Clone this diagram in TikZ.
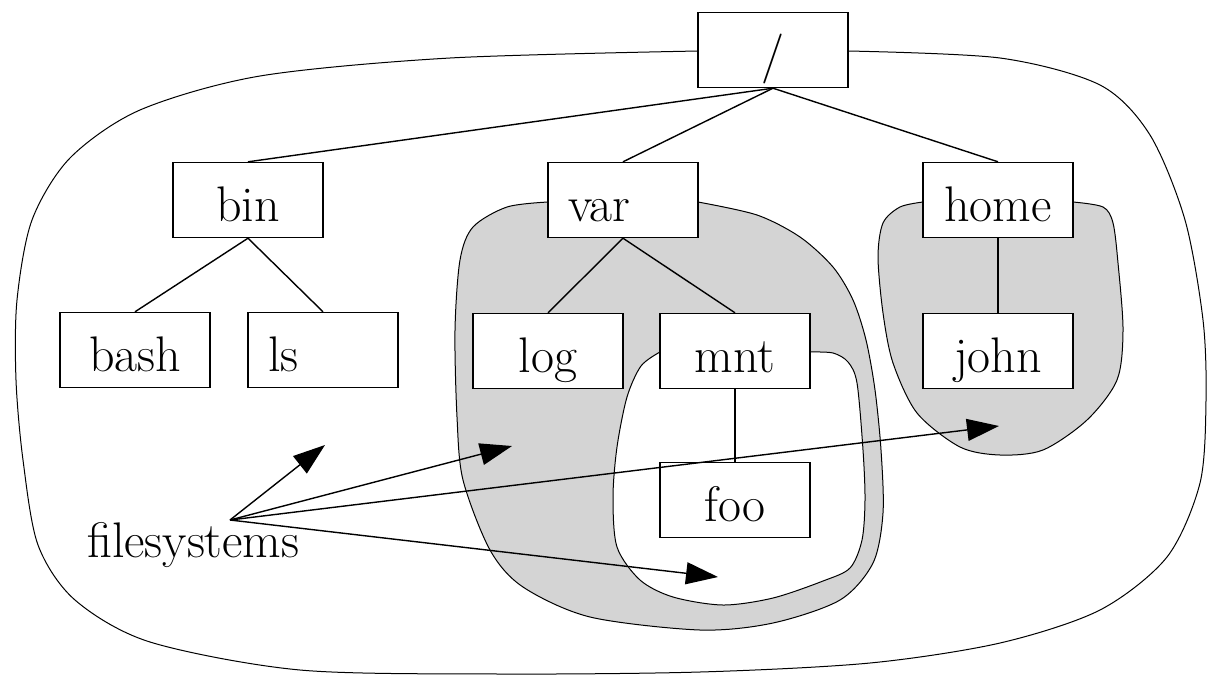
\documentclass[tikz,border=0pt]{standalone}
\usetikzlibrary{arrows.meta}

\begin{document}
\begin{tikzpicture}[x=0.5pt, y=-0.5pt, font=\fontsize{25}{30}\selectfont]
		\tikzset{box/.style = {draw, fill=white, line width=0.7pt, minimum width=75pt, minimum height=37.5pt, text height=21pt, text depth=0pt}}
		\tikzset{lbox/.style = {box, text width=55pt, align=left, inner xsep=10pt}}
		\tikzset{link/.style = {line width=0.7pt}}
		\tikzset{fsarrow/.style = {line width=0.7pt, -{Triangle[length=16pt, width=11pt]}}}
		\tikzset{blob/.style = {line width=0.5pt}}
		\tikzset{fsblob/.style = {blob, fill=black!17}}
		\tikzset{mntblob/.style = {blob, fill=white}}
		
		\useasboundingbox (0,0) rectangle (1208,675);
		
		% mounted filesystems
		\draw[blob] plot[smooth] coordinates {(698,51) (450,58) (260,76) (140,110) (70,158) (32,220) (17,300) (16,380) (23,460) (38,545) (75,600) (150,642) (300,670) (500,674) (700,672) (870,663) (1000,643) (1100,610) (1167,557) (1200,483) (1206,400) (1203,320) (1185,220) (1150,135) (1100,85) (1000,58) (848,51)};
		\filldraw[fsblob] plot[smooth] coordinates {(548,202) (507,207) (473,227) (460,260) (455,330) (457,417) (463,480) (490,550) (523,587) (590,617) (700,630) (773,623) (840,600) (873,563) (883,513) (881,450) (875,390) (866,340) (853,300) (833,267) (800,237) (757,215) (698,202)};
		\filldraw[mntblob] plot[smooth] coordinates {(660,352) (641,366) (627,397) (617,447) (613,497) (617,547) (640,580) (673,597) (723,605) (773,598) (823,581) (850,568) (862,540) (865,500) (863,450) (857,383) (848,362) (833,353) (810,352)};
		\filldraw[fsblob] plot[smooth] coordinates {(923,202) (900,207) (883,223) (878,257) (883,313) (893,363) (917,413) (960,447) (1000,455) (1043,450) (1087,420) (1117,380) (1123,330) (1118,263) (1113,223) (1103,207) (1073,202)};
		
		% directory tree
		\node[box]  (root) at ( 773,  50) {/};
		\node[box]  (bin)  at ( 248, 200) {bin};
		\node[lbox] (var)  at ( 623, 200) {var};
		\node[box]  (home) at ( 998, 200) {home};
		\node[box]  (bash) at ( 135, 350) {bash};
		\node[lbox] (ls)   at ( 323, 350) {ls};
		\node[box]  (log)  at ( 548, 351) {log};
		\node[box]  (mnt)  at ( 735, 351) {mnt};
		\node[box]  (john) at ( 998, 351) {john};
		\node[box]  (foo)  at ( 735, 500) {foo};
		
		\draw[link] (root.south) to (bin.north);
		\draw[link] (root.south) to (var.north);
		\draw[link] (root.south) to (home.north);
		\draw[link] (bin.south)  to (bash.north);
		\draw[link] (bin.south)  to (ls.north);
		\draw[link] (var.south)  to (log.north);
		\draw[link] (var.south)  to (mnt.north);
		\draw[link] (home.south) to (john.north);
		\draw[link] (mnt.south)  to (foo.north);
		
		% label and pointers
		\node[anchor=base west] (fs) at (80,557) {filesystems};
		\coordinate (fsorig) at (230,520);
		\coordinate (tip1) at (325,445);
		\coordinate (tip2) at (512,446);
		\coordinate (tip3) at (999,426);
		\coordinate (tip4) at (718,577);
		
		\draw[fsarrow] (fsorig) to (tip1);
		\draw[fsarrow] (fsorig) to (tip2);
		\draw[fsarrow] (fsorig) to (tip3);
		\draw[fsarrow] (fsorig) to (tip4);
\end{tikzpicture}
\end{document}
